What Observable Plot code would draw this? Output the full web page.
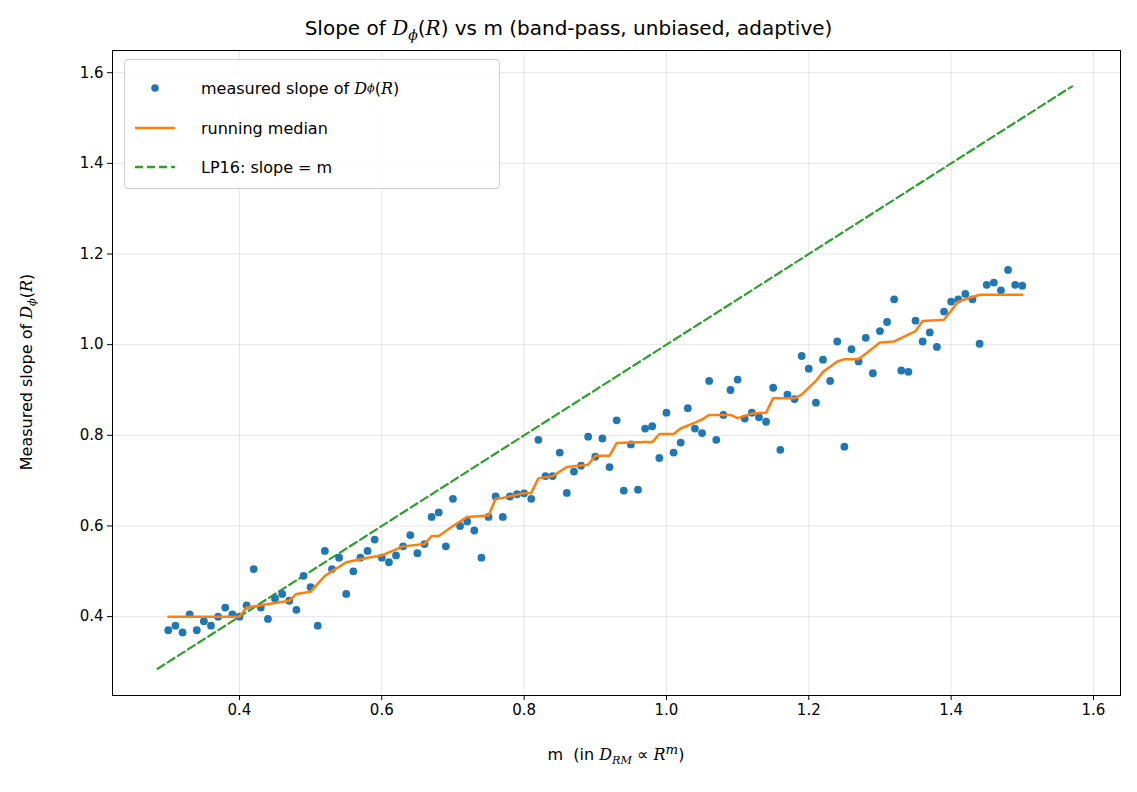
<!DOCTYPE html>
<html>
<head>
<meta charset="UTF-8">
<style>
  body { margin: 0; background: #fff; font-family: "DejaVu Sans", sans-serif; }
  #wrap { position: relative; width: 1137px; height: 792px; }
  .t { position: absolute; color: #000; white-space: nowrap; }
  #title { top: 16px; left: 0; width: 1137px; text-align: center; font-size: 20px; }
  #xlab { top: 742px; left: 112px; width: 1008px; text-align: center; font-size: 16px; }
  #ylab { top: 372px; left: 28px; font-size: 16px; transform: translate(-50%, -50%) rotate(-90deg); }
  #legend { top: 59px; left: 124px; width: 374px; height: 128px; border: 1px solid #ccc; border-radius: 4px;
            background: rgba(255,255,255,0.85); font-size: 16px; }
  .row { position: absolute; left: 0; height: 30px; display: flex; align-items: center; }
  .sw { width: 60px; display: flex; justify-content: center; margin-right: 16px; }
  i { font-family: "DejaVu Serif", serif; }
  sub { font-size: 70%; vertical-align: -0.35em; }
</style>
</head>
<body>
<div id="wrap">
  <div id="chart"></div>
  <div class="t" id="title">Slope of <i>D</i><sub><i>ϕ</i></sub>(<i>R</i>) vs m (band-pass, unbiased, adaptive)</div>
  <div class="t" id="xlab">m &nbsp;(in <i>D</i><sub><i>RM</i></sub> ∝ <i>R</i><sup><i>m</i></sup>)</div>
  <div class="t" id="ylab">Measured slope of <i>D</i><sub><i>ϕ</i></sub>(<i>R</i>)</div>
  <div class="t" id="legend">
    <div class="row" style="top:13px"><span class="sw"><svg width="10" height="10"><circle cx="5" cy="5" r="3.8" fill="#1f77b4"/></svg></span>measured slope of&nbsp;<i>D</i><sub><i>ϕ</i></sub>(<i>R</i>)</div>
    <div class="row" style="top:53px"><span class="sw"><svg width="44" height="4"><line x1="2" y1="2" x2="42" y2="2" stroke="#ff7f0e" stroke-width="2.5"/></svg></span>running median</div>
    <div class="row" style="top:92px"><span class="sw"><svg width="44" height="4"><line x1="2" y1="2" x2="42" y2="2" stroke="#2ca02c" stroke-width="2.5" stroke-dasharray="8,4"/></svg></span>LP16: slope = m</div>
  </div>
</div>
<script src="https://cdn.jsdelivr.net/npm/d3@7"></script>
<script src="https://cdn.jsdelivr.net/npm/@observablehq/plot@0.6"></script>
<script>
// measured slopes, m = 0.30 .. 1.50 step 0.01
const mStart = 0.30;
const slopes = [
  0.37, 0.38, 0.365, 0.405, 0.37, 0.39, 0.38, 0.40, 0.42, 0.405,
  0.40, 0.425, 0.505, 0.42, 0.395, 0.44, 0.45, 0.435, 0.415, 0.49,
  0.465, 0.38, 0.545, 0.505, 0.53, 0.45, 0.50, 0.53, 0.545, 0.57,
  0.53, 0.52, 0.535, 0.555, 0.58, 0.54, 0.56, 0.62, 0.63, 0.555,
  0.66, 0.60, 0.61, 0.59, 0.53, 0.62, 0.665, 0.62, 0.665, 0.67,
  0.672, 0.66, 0.79, 0.71, 0.71, 0.762, 0.673, 0.72, 0.733, 0.797,
  0.753, 0.793, 0.73, 0.833, 0.678, 0.78, 0.68, 0.815, 0.82, 0.75,
  0.85, 0.762, 0.784, 0.86, 0.815, 0.805, 0.92, 0.79, 0.845, 0.90,
  0.923, 0.837, 0.85, 0.84, 0.83, 0.905, 0.768, 0.89, 0.88, 0.975,
  0.947, 0.872, 0.967, 0.92, 1.007, 0.775, 0.99, 0.963, 1.015, 0.937,
  1.03, 1.05, 1.10, 0.943, 0.94, 1.053, 1.007, 1.027, 0.995, 1.073,
  1.095, 1.10, 1.112, 1.10, 1.002, 1.132, 1.137, 1.12, 1.165, 1.132,
  1.13
];
const mValues = slopes.map((_, i) => +(mStart + i * 0.01).toFixed(2));

// running median
const medM = [0.30, 0.40, 0.41, 0.45, 0.47, 0.48, 0.50, 0.52, 0.55, 0.58, 0.60, 0.63, 0.66, 0.67, 0.68, 0.70,
  0.72, 0.75, 0.76, 0.77, 0.80, 0.81, 0.82, 0.84, 0.86, 0.89, 0.90, 0.92, 0.93, 0.97, 0.98, 0.99, 1.01, 1.02,
  1.04, 1.05, 1.06, 1.09, 1.10, 1.12, 1.14, 1.15, 1.18, 1.19, 1.21, 1.22, 1.24, 1.25, 1.27, 1.28, 1.30, 1.32,
  1.35, 1.36, 1.39, 1.41, 1.44, 1.50];
const medY = [0.40, 0.40, 0.42, 0.43, 0.435, 0.45, 0.455, 0.49, 0.52, 0.53, 0.535, 0.555, 0.56, 0.578, 0.578, 0.60,
  0.62, 0.623, 0.66, 0.662, 0.672, 0.673, 0.705, 0.71, 0.73, 0.735, 0.755, 0.755, 0.783, 0.785, 0.785, 0.803, 0.803, 0.815,
  0.828, 0.835, 0.845, 0.845, 0.838, 0.848, 0.85, 0.882, 0.882, 0.89, 0.92, 0.94, 0.963, 0.968, 0.968, 0.98, 1.005, 1.007,
  1.03, 1.052, 1.055, 1.095, 1.11, 1.11];

const lpM = [0.285, 1.57];

const pts = mValues.map((m, i) => ({m, s: slopes[i]}));
const med = medM.map((m, i) => ({m, s: medY[i]}));
const lp = lpM.map(m => ({m, s: m}));

const plot = Plot.plot({
  width: 1137,
  height: 792,
  marginTop: 50,
  marginBottom: 97,
  marginLeft: 112,
  marginRight: 17,
  style: {fontFamily: "DejaVu Sans", fontSize: "15px", color: "#000"},
  x: {domain: [0.2216, 1.638], ticks: d3.range(0.4, 1.61, 0.2), tickFormat: ".1f", label: null, tickSize: 5},
  y: {domain: [0.226, 1.649], ticks: d3.range(0.4, 1.61, 0.2), tickFormat: ".1f", label: null, tickSize: 5},
  marks: [
    Plot.gridX(d3.range(0.4, 1.61, 0.2), {stroke: "#000", strokeOpacity: 0.1}),
    Plot.gridY(d3.range(0.4, 1.61, 0.2), {stroke: "#000", strokeOpacity: 0.1}),
    Plot.line(lp, {x: "m", y: "s", stroke: "#2ca02c", strokeWidth: 2.2, strokeDasharray: "8,4"}),
    Plot.dot(pts, {x: "m", y: "s", r: 3.9, fill: "#1f77b4"}),
    Plot.line(med, {x: "m", y: "s", stroke: "#ff7f0e", strokeWidth: 2.5}),
    Plot.frame({stroke: "#000"})
  ]
});
document.getElementById("chart").append(plot);
</script>
</body>
</html>
